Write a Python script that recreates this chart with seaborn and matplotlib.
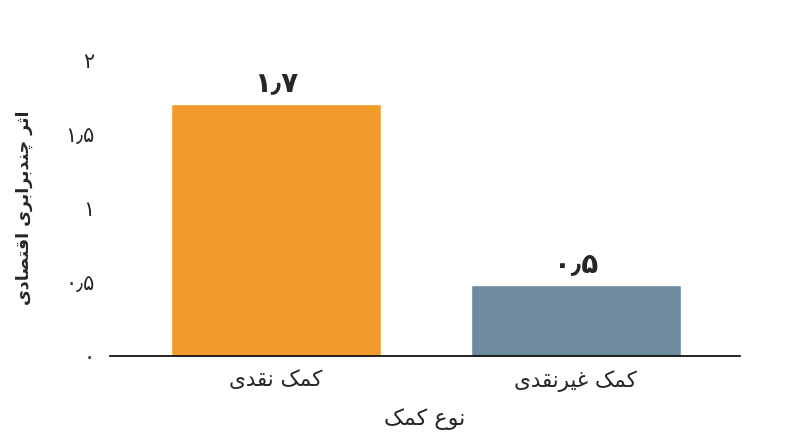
import matplotlib
matplotlib.use("Agg")
import matplotlib.pyplot as plt
import seaborn as sb
import pandas as pd

# data
categories = ["کمک نقدی", "کمک غیرنقدی"]
values = [1.7, 0.48]
bar_colors = ["#F39B2A", "#6F8BA0"]
y_ticks = [0, 0.5, 1, 1.5, 2]
x_title = "نوع کمک"
y_title = "اثر چندبرابری اقتصادی"

# matplotlib does no arabic shaping, so do it by hand with presentation forms
# letter: (isolated, final, initial, medial); right-joining letters have 2 forms
FORMS = {
    "\u06A9": ("\uFB8E", "\uFB8F", "\uFB90", "\uFB91"),  # keheh
    "\u0645": ("\uFEE1", "\uFEE2", "\uFEE3", "\uFEE4"),
    "\u0646": ("\uFEE5", "\uFEE6", "\uFEE7", "\uFEE8"),
    "\u0642": ("\uFED5", "\uFED6", "\uFED7", "\uFED8"),
    "\u06CC": ("\uFBFC", "\uFBFD", "\uFBFE", "\uFBFF"),  # farsi yeh
    "\u063A": ("\uFECD", "\uFECE", "\uFECF", "\uFED0"),
    "\u0639": ("\uFEC9", "\uFECA", "\uFECB", "\uFECC"),
    "\u062B": ("\uFE99", "\uFE9A", "\uFE9B", "\uFE9C"),
    "\u0686": ("\uFB7A", "\uFB7B", "\uFB7C", "\uFB7D"),
    "\u0628": ("\uFE8F", "\uFE90", "\uFE91", "\uFE92"),
    "\u062A": ("\uFE95", "\uFE96", "\uFE97", "\uFE98"),
    "\u0635": ("\uFEB9", "\uFEBA", "\uFEBB", "\uFEBC"),
    "\u062F": ("\uFEA9", "\uFEAA"),
    "\u0631": ("\uFEAD", "\uFEAE"),
    "\u0648": ("\uFEED", "\uFEEE"),
    "\u0627": ("\uFE8D", "\uFE8E"),
}


def shape(text):
    out = []
    for i, ch in enumerate(text):
        if ch not in FORMS:
            out.append(ch)
            continue
        prev = text[i - 1] if i > 0 else ""
        nxt = text[i + 1] if i + 1 < len(text) else ""
        join_prev = prev in FORMS and len(FORMS[prev]) == 4
        join_next = len(FORMS[ch]) == 4 and nxt in FORMS
        f = FORMS[ch]
        if join_prev and join_next:
            out.append(f[3])
        elif join_prev:
            out.append(f[1])
        elif join_next:
            out.append(f[2])
        else:
            out.append(f[0])
    return "".join(out)[::-1]


def fa_num(v):
    s = ("%.1f" % v).rstrip("0").rstrip(".")
    s = s.replace(".", "\u066B")
    return s.translate(str.maketrans("0123456789", "۰۱۲۳۴۵۶۷۸۹"))


df = pd.DataFrame({"cat": [shape(c) for c in categories], "val": values})

sb.set_style("white")
plt.rcParams["font.family"] = ["DejaVu Sans"]

fig = plt.figure(figsize=(8, 4.47), dpi=100)
ax = fig.add_axes([0.1375, 0.2036, 0.7875, 0.6622])

sb.barplot(data=df, x="cat", y="val", hue="cat", palette=bar_colors,
           width=0.7, legend=False, ax=ax, saturation=1)

ax.bar_label(ax.containers[0], labels=[fa_num(values[0])], padding=5,
             fontsize=20, fontweight="bold")
ax.bar_label(ax.containers[1], labels=[fa_num(values[1])], padding=5,
             fontsize=20, fontweight="bold")

ax.set_xlim(-0.553, 1.547)
ax.set_ylim(0, 2)
ax.set_yticks(y_ticks)
ax.set_yticklabels([fa_num(t) for t in y_ticks], fontsize=15)
ax.tick_params(axis="x", length=0, pad=10, labelsize=15.5)
ax.tick_params(axis="y", length=0, pad=11)

for s in ["left", "top", "right"]:
    ax.spines[s].set_visible(False)
ax.spines["bottom"].set_color("black")
ax.spines["bottom"].set_linewidth(1.2)

ax.set_xlabel(shape(x_title), fontsize=16, labelpad=12)
ax.set_ylabel(shape(y_title), fontsize=12.5, fontweight="bold")
ax.yaxis.set_label_coords(-0.123, 0.5)

fig.savefig("out.png", dpi=100)
